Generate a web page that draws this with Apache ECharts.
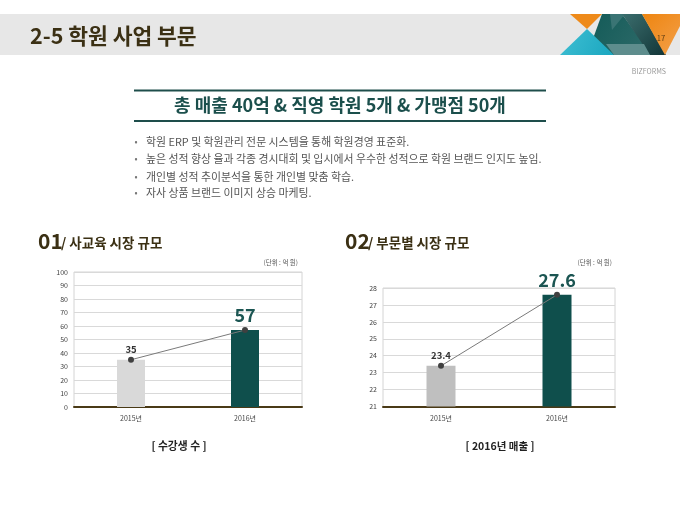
<!DOCTYPE html>
<html><head><meta charset="utf-8">
<script src="https://cdn.jsdelivr.net/npm/echarts@6/dist/echarts.min.js"></script>
<style>html,body{margin:0;padding:0;background:#fff}#c{width:680px;height:510px}</style>
</head><body><div id="c"></div>
<script>
var categories = ['2015년', '2016년'];
var marketValues = [35, 57];
var salesValues = [23.4, 27.6];
var bullets = [
  '학원 ERP 및 학원관리 전문 시스템을 통해 학원경영 표준화.',
  '높은 성적 향상 율과 각종 경시대회 및 입시에서 우수한 성적으로 학원 브랜드 인지도 높임.',
  '개인별 성적 추이분석을 통한 개인별 맞춤 학습.',
  '자사 상품 브랜드 이미지 상승 마케팅.'
];
var FONT = '"Noto Sans CJK KR", "Noto Sans", sans-serif';
var BROWN = '#3b3014';
var TEAL = '#0f4f4c';

var chart = echarts.init(document.getElementById('c'));

function txt(x, y, s, size, color, weight, align) {
  return {type: 'text', x: x, y: y, z: 10, style: {text: s, fontSize: size, fill: color, fontWeight: weight || 'normal', fontFamily: FONT, textAlign: align || 'left', textVerticalAlign: 'middle'}};
}
function poly(pts, fill) { return {type: 'polygon', shape: {points: pts}, style: {fill: fill}}; }
function grad(c1, c2) { return new echarts.graphic.LinearGradient(0, 0, 1, 1, [{offset: 0, color: c1}, {offset: 1, color: c2}]); }

var graphics = [
  {type: 'rect', shape: {x: 0, y: 14, width: 680, height: 41}, style: {fill: '#e7e7e7'}},
  poly([[602,14],[622,14],[652,55],[587,55]], grad('#125a57', '#2f6b6a')),
  poly([[570,14],[602,14],[587,29]], '#ee8a1a'),
  poly([[587,29],[560,55],[614,55]], grad('#3fbfd3', '#1aa6bf')),
  poly([[610,14],[625,14],[612,30]], '#3a7474'),
  poly([[622,14],[642,14],[666,55],[650,55]], grad('#3b6e6e', '#123537')),
  poly([[606,44],[644,44],[650,55],[614,55]], '#5e8d8d'),
  poly([[642,14],[680,14],[680,26],[665,55]], grad('#ee8510', '#f3a04a')),
  txt(30, 36, '2-5 학원 사업 부문', 21.5, BROWN, 'bold'),
  txt(661, 38, '17', 7.5, '#5a3a10', 'normal', 'center'),
  txt(666, 71, 'BIZFORMS', 7, '#9a9a9a', 'normal', 'right'),
  {type: 'line', shape: {x1: 134, y1: 90.5, x2: 546, y2: 90.5}, style: {stroke: '#1e4e4b', lineWidth: 2}},
  {type: 'line', shape: {x1: 134, y1: 121, x2: 546, y2: 121}, style: {stroke: '#1e4e4b', lineWidth: 2}},
  txt(340, 105, '총 매출 40억 & 직영 학원 5개 & 가맹점 50개', 18, '#1b4f4c', 'bold', 'center'),
  txt(38, 241, '01', 21, BROWN, 'bold'),
  txt(61, 243, '/ 사교육 시장 규모', 13.5, BROWN, 'bold'),
  txt(345, 241, '02', 21, BROWN, 'bold'),
  txt(368, 243, '/ 부문별 시장 규모', 13.5, BROWN, 'bold'),
  txt(298, 263, '(단위 : 억 원)', 6.5, '#555', 'normal', 'right'),
  txt(612, 263, '(단위 : 억 원)', 6.5, '#555', 'normal', 'right'),
  txt(179, 446, '[ 수강생 수 ]', 10.8, '#222', 'bold', 'center'),
  txt(500, 446, '[ 2016년 매출 ]', 10.5, '#222', 'bold', 'center')
];
var by = [142, 159, 176.5, 193];
for (var i = 0; i < bullets.length; i++) {
  graphics.push(txt(136, by[i], '•', 9, '#777', 'normal', 'center'));
  graphics.push(txt(146, by[i], bullets[i], 10.9, '#555'));
}

function yAxis(idx, min, max, interval) {
  return {type: 'value', gridIndex: idx, min: min, max: max, interval: interval,
    axisLine: {show: false}, axisTick: {show: false},
    axisLabel: {fontSize: 7, color: '#444', fontFamily: FONT, margin: 6},
    splitLine: {lineStyle: {color: '#d9d9d9', width: 1}}};
}
function xAxis(idx) {
  return {type: 'category', gridIndex: idx, data: categories,
    axisLine: {lineStyle: {color: '#4a3a16', width: 2}}, axisTick: {show: false},
    axisLabel: {fontSize: 7, color: '#444', fontFamily: FONT, margin: 8}};
}
function barData(vals, c1, c2) {
  return vals.map(function (v, i) { return {value: v, itemStyle: {color: i === 0 ? c1 : c2}}; });
}
function lineLabels(vals, d1) {
  return vals.map(function (v, i) {
    return {value: v, label: i === 0
      ? {show: true, position: 'top', distance: d1, fontSize: 9.5, fontWeight: 'bold', color: '#333', fontFamily: FONT}
      : {show: true, position: 'top', distance: 3, fontSize: 18, fontWeight: 'bold', color: '#1b5552', fontFamily: FONT}};
  });
}

chart.setOption({
  animation: false,
  graphic: graphics,
  grid: [
    {left: 74, top: 272, width: 228, height: 135, show: true, borderColor: '#d4d4d4', borderWidth: 1},
    {left: 383, top: 288, width: 232, height: 118.5, show: true, borderColor: '#d4d4d4', borderWidth: 1}
  ],
  xAxis: [xAxis(0), xAxis(1)],
  yAxis: [yAxis(0, 0, 100, 10), yAxis(1, 21, 28, 1)],
  series: [
    {type: 'bar', xAxisIndex: 0, yAxisIndex: 0, barWidth: 28, data: barData(marketValues, '#d9d9d9', TEAL)},
    {type: 'line', xAxisIndex: 0, yAxisIndex: 0, data: lineLabels(marketValues, 3), symbol: 'circle', symbolSize: 6,
      lineStyle: {color: '#7a7a7a', width: 1}, itemStyle: {color: '#404040'}, z: 5},
    {type: 'bar', xAxisIndex: 1, yAxisIndex: 1, barWidth: 29, data: barData(salesValues, '#bfbfbf', TEAL)},
    {type: 'line', xAxisIndex: 1, yAxisIndex: 1, data: lineLabels(salesValues, 3), symbol: 'circle', symbolSize: 6,
      lineStyle: {color: '#7a7a7a', width: 1}, itemStyle: {color: '#404040'}, z: 5}
  ]
});
</script></body></html>
